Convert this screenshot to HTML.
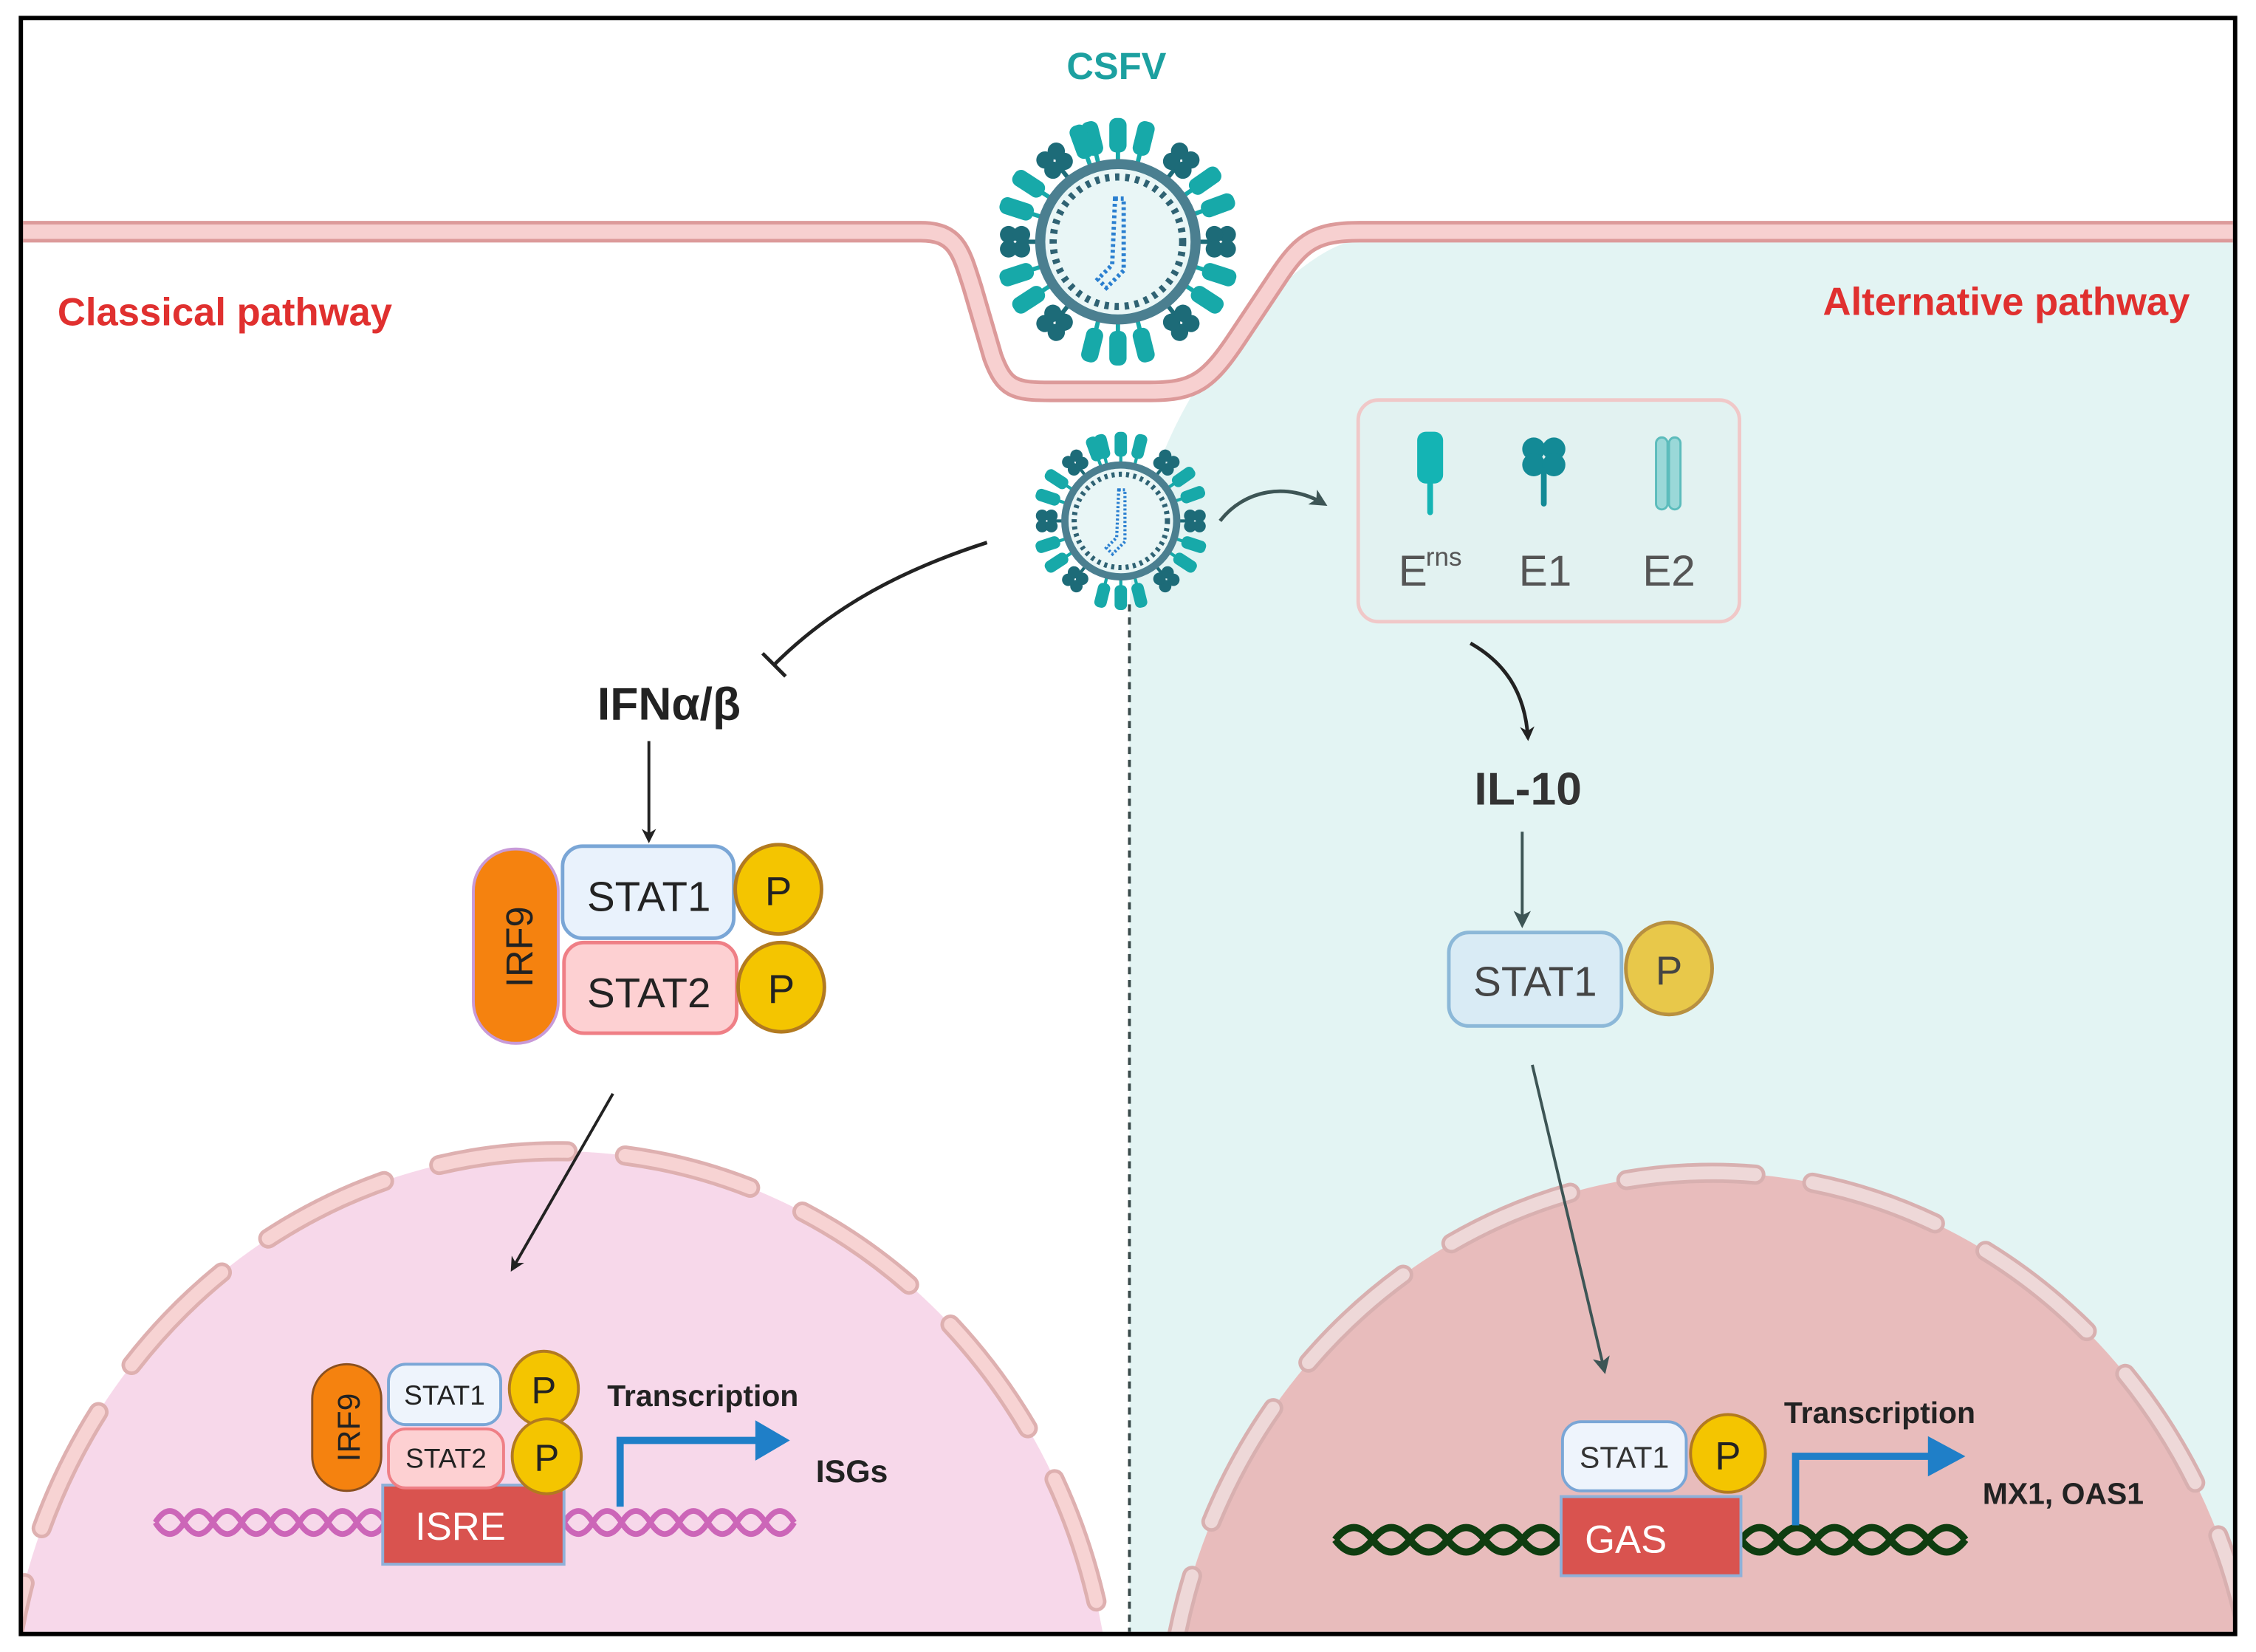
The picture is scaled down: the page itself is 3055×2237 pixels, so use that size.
<!DOCTYPE html>
<html><head><meta charset="utf-8"><style>
html,body{margin:0;padding:0;background:#fff;width:3055px;height:2237px;overflow:hidden}
svg{display:block}
text{font-family:"Liberation Sans",sans-serif}
</style></head><body>
<svg width="3055" height="2237" viewBox="0 0 1568 1148" preserveAspectRatio="none" xmlns="http://www.w3.org/2000/svg">
<defs>
<clipPath id="frame"><rect x="16" y="14" width="1536" height="1120"/></clipPath>
<marker id="ah" markerWidth="10" markerHeight="10" refX="8" refY="5" orient="auto" markerUnits="userSpaceOnUse"><path d="M0,0 L10,5 L0,10 L3,5 Z" fill="#222"/></marker>
<marker id="ahg" markerWidth="12" markerHeight="12" refX="9" refY="6" orient="auto" markerUnits="userSpaceOnUse"><path d="M0,0 L12,6 L0,12 L3,6 Z" fill="#3d5555"/></marker>
<g id="sp"><rect x="-1.5" y="-64" width="3" height="14" fill="#17a9a9"/><rect x="-6" y="-86" width="12" height="24" rx="5" fill="#17a9a9"/></g>
<g id="spd"><rect x="-1.5" y="-64" width="3" height="14" fill="#1d6b78"/><circle cx="-5" cy="-76" r="6" fill="#1d6b78"/><circle cx="5" cy="-76" r="6" fill="#1d6b78"/><circle cx="-5" cy="-67" r="6" fill="#1d6b78"/><circle cx="5" cy="-67" r="6" fill="#1d6b78"/></g>
<g id="virus">
<g><use href="#sp" transform="rotate(0)"/><use href="#sp" transform="rotate(14)"/><use href="#sp" transform="rotate(-14)"/><use href="#spd" transform="rotate(38)"/><use href="#sp" transform="rotate(55)"/><use href="#sp" transform="rotate(70)"/><use href="#spd" transform="rotate(90)"/><use href="#sp" transform="rotate(108)"/><use href="#sp" transform="rotate(123)"/><use href="#spd" transform="rotate(142)"/><use href="#sp" transform="rotate(166)"/><use href="#sp" transform="rotate(180)"/><use href="#sp" transform="rotate(194)"/><use href="#spd" transform="rotate(218)"/><use href="#sp" transform="rotate(237)"/><use href="#sp" transform="rotate(252)"/><use href="#spd" transform="rotate(270)"/><use href="#sp" transform="rotate(288)"/><use href="#sp" transform="rotate(303)"/><use href="#spd" transform="rotate(322)"/><use href="#sp" transform="rotate(340)"/></g>
<circle r="54" fill="#e9f6f6" stroke="#4b7f90" stroke-width="7"/>
<circle r="45" fill="none" stroke="#2f6273" stroke-width="5" stroke-dasharray="3 4"/>
<path d="M-2,-30 L4,-30 L4,20 L-8,32 L-14,26 L-4,16 Z" fill="none" stroke="#2a7fd0" stroke-width="3" stroke-dasharray="2 2"/>
</g>
</defs>

<rect x="0" y="0" width="1568" height="1148" fill="#fff"/>
<g clip-path="url(#frame)">
<path d="M785,1134 L785,420 C790,330 830,250 900,190 C925,170 940,165 960,165 L1552,165 L1552,1134 Z" fill="#e3f4f3"/>
<ellipse cx="388" cy="1210" rx="385" ry="410" fill="#f7d8ea"/>
<ellipse cx="1190" cy="1220" rx="380" ry="405" fill="#e8bcbc"/>
<ellipse cx="388" cy="1210" rx="385" ry="410" fill="none" stroke="#deb0b0" stroke-width="14" stroke-dasharray="90 40" stroke-linecap="round" stroke-dashoffset="30"/>
<ellipse cx="388" cy="1210" rx="385" ry="410" fill="none" stroke="#f7d3d3" stroke-width="9" stroke-dasharray="90 40" stroke-linecap="round" stroke-dashoffset="30"/>
<ellipse cx="1190" cy="1220" rx="380" ry="405" fill="none" stroke="#d8b0b0" stroke-width="14" stroke-dasharray="90 40" stroke-linecap="round" stroke-dashoffset="30"/>
<ellipse cx="1190" cy="1220" rx="380" ry="405" fill="none" stroke="#eed8d8" stroke-width="9" stroke-dasharray="90 40" stroke-linecap="round" stroke-dashoffset="30"/>
<line x1="785" y1="420" x2="785" y2="1134" stroke="#3a4a4a" stroke-width="2" stroke-dasharray="5 4"/>
<path d="M16,161 L640,161 C665,161 668,175 676,200 L690,248 C698,270 705,272 730,272 L800,272 C830,272 840,265 860,235 L890,190 C905,168 915,161 945,161 L1552,161" fill="none" stroke="#dc9a9a" stroke-width="15"/>
<path d="M16,161 L640,161 C665,161 668,175 676,200 L690,248 C698,270 705,272 730,272 L800,272 C830,272 840,265 860,235 L890,190 C905,168 915,161 945,161 L1552,161" fill="none" stroke="#f7d0d0" stroke-width="10"/>
</g>
<use href="#virus" transform="translate(777,168)"/>
<use href="#virus" transform="translate(779,362) scale(0.72)"/>
<text x="776" y="55" text-anchor="middle" font-size="26" font-weight="bold" fill="#1ca0a0">CSFV</text>
<text x="40" y="226" font-size="27" font-weight="bold" fill="#e0302f">Classical pathway</text>
<text x="1522" y="219" text-anchor="end" font-size="27" font-weight="bold" fill="#e0302f">Alternative pathway</text>
<path d="M686,377 C630,395 580,420 538,462" fill="none" stroke="#222" stroke-width="2.5"/>
<line x1="530" y1="454" x2="546" y2="470" stroke="#222" stroke-width="2.5"/>
<text x="465" y="500" text-anchor="middle" font-size="32" font-weight="bold" fill="#222">IFNα/β</text>
<line x1="451" y1="515" x2="451" y2="584" stroke="#222" stroke-width="2" marker-end="url(#ah)"/>
<rect x="329" y="590" width="59" height="135" rx="29" fill="#f5820f" stroke="#c89ad8" stroke-width="2"/>
<text transform="translate(370,658) rotate(-90)" text-anchor="middle" font-size="26" fill="#222">IRF9</text>
<rect x="391" y="588" width="119" height="64" rx="14" fill="#e9f2fc" stroke="#7aa6d6" stroke-width="2.5"/>
<text x="451" y="633" text-anchor="middle" font-size="29" fill="#222">STAT1</text>
<rect x="392" y="655" width="120" height="63" rx="14" fill="#fdd0d2" stroke="#ef7f86" stroke-width="2.5"/>
<text x="451" y="700" text-anchor="middle" font-size="29" fill="#222">STAT2</text>
<ellipse cx="541" cy="618" rx="30" ry="31" fill="#f4c500" stroke="#b27a20" stroke-width="2.5"/>
<text x="541" y="629" text-anchor="middle" font-size="28" fill="#222">P</text>
<ellipse cx="543" cy="686" rx="30" ry="31" fill="#f4c500" stroke="#b27a20" stroke-width="2.5"/>
<text x="543" y="697" text-anchor="middle" font-size="28" fill="#222">P</text>
<line x1="426" y1="760" x2="356" y2="882" stroke="#222" stroke-width="2" marker-end="url(#ah)"/>
<path d="M108,1058 q10,-16 20,0 t20,0 t20,0 t20,0 t20,0 t20,0 t20,0 t20,0 M392,1058 q10,-16 20,0 t20,0 t20,0 t20,0 t20,0 t20,0 t20,0 t20,0" fill="none" stroke="#cc66b8" stroke-width="4"/>
<path d="M108,1058 q10,16 20,0 t20,0 t20,0 t20,0 t20,0 t20,0 t20,0 t20,0 M392,1058 q10,16 20,0 t20,0 t20,0 t20,0 t20,0 t20,0 t20,0 t20,0" fill="none" stroke="#cc66b8" stroke-width="4"/>
<rect x="266" y="1032" width="126" height="55" fill="#d9534f" stroke="#8fb0d8" stroke-width="2"/>
<text x="320" y="1070" text-anchor="middle" font-size="27" fill="#fff">ISRE</text>
<rect x="217" y="948" width="48" height="88" rx="24" fill="#f5820f" stroke="#8a5020" stroke-width="1.5"/>
<text transform="translate(250,992) rotate(-90)" text-anchor="middle" font-size="22" fill="#222">IRF9</text>
<rect x="270" y="948" width="78" height="42" rx="12" fill="#eef4fc" stroke="#7aa6d6" stroke-width="2"/>
<text x="309" y="976" text-anchor="middle" font-size="19" fill="#222">STAT1</text>
<rect x="270" y="993" width="80" height="41" rx="12" fill="#fdd0d2" stroke="#ef7f86" stroke-width="2"/>
<text x="310" y="1020" text-anchor="middle" font-size="19" fill="#222">STAT2</text>
<ellipse cx="378" cy="965" rx="24" ry="26" fill="#f4c500" stroke="#b27a20" stroke-width="2"/>
<text x="378" y="975" text-anchor="middle" font-size="26" fill="#222">P</text>
<ellipse cx="380" cy="1012" rx="24" ry="26" fill="#f4c500" stroke="#b27a20" stroke-width="2"/>
<text x="380" y="1022" text-anchor="middle" font-size="26" fill="#222">P</text>
<path d="M431,1047 L431,1001 L530,1001" fill="none" stroke="#1f7fc8" stroke-width="5"/>
<path d="M525,987 L549,1001 L525,1015 Z" fill="#1f7fc8"/>
<text x="422" y="977" font-size="21" font-weight="bold" fill="#222">Transcription</text>
<text x="567" y="1030" font-size="22" font-weight="bold" fill="#222">ISGs</text>
<path d="M848,362 C865,340 895,335 920,350" fill="none" stroke="#3d5555" stroke-width="2.5" marker-end="url(#ahg)"/>
<rect x="944" y="278" width="265" height="154" rx="14" fill="#e2f2f1" stroke="#f0c8c8" stroke-width="2.5"/>
<rect x="985" y="300" width="18" height="36" rx="6" fill="#14b4b4"/>
<rect x="992" y="334" width="4" height="24" rx="2" fill="#14b4b4"/>
<circle cx="1066" cy="312" r="8" fill="#138a96"/><circle cx="1080" cy="312" r="8" fill="#138a96"/><circle cx="1066" cy="323" r="8" fill="#138a96"/><circle cx="1080" cy="323" r="8" fill="#138a96"/>
<rect x="1071" y="325" width="4" height="27" rx="2" fill="#138a96"/>
<rect x="1151" y="304" width="8" height="50" rx="4" fill="#9ad8d8" stroke="#5cbcbc" stroke-width="1.5"/>
<rect x="1160" y="304" width="8" height="50" rx="4" fill="#9ad8d8" stroke="#5cbcbc" stroke-width="1.5"/>
<text x="972" y="407" font-size="30" fill="#555">E</text><text x="991" y="393" font-size="18" fill="#555">rns</text>
<text x="1074" y="407" text-anchor="middle" font-size="30" fill="#555">E1</text>
<text x="1160" y="407" text-anchor="middle" font-size="30" fill="#555">E2</text>
<path d="M1022,447 C1045,460 1060,480 1062,513" fill="none" stroke="#222" stroke-width="2.5" marker-end="url(#ah)"/>
<text x="1062" y="559" text-anchor="middle" font-size="32" font-weight="bold" fill="#333">IL-10</text>
<line x1="1058" y1="578" x2="1058" y2="642" stroke="#3d5555" stroke-width="2" marker-end="url(#ahg)"/>
<rect x="1007" y="648" width="120" height="65" rx="14" fill="#d9ebf5" stroke="#8cb8d8" stroke-width="2.5"/>
<text x="1067" y="692" text-anchor="middle" font-size="29" fill="#444">STAT1</text>
<ellipse cx="1160" cy="673" rx="30" ry="32" fill="#e8c84a" stroke="#b89040" stroke-width="2.5"/>
<text x="1160" y="684" text-anchor="middle" font-size="28" fill="#444">P</text>
<line x1="1065" y1="740" x2="1115" y2="952" stroke="#3d5555" stroke-width="2" marker-end="url(#ahg)"/>
<path d="M928,1070 q13,-17 26,0 t26,0 t26,0 t26,0 t26,0 t26,0 M1210,1070 q13,-17 26,0 t26,0 t26,0 t26,0 t26,0 t26,0" fill="none" stroke="#0f3d10" stroke-width="5"/>
<path d="M928,1070 q13,17 26,0 t26,0 t26,0 t26,0 t26,0 t26,0 M1210,1070 q13,17 26,0 t26,0 t26,0 t26,0 t26,0 t26,0" fill="none" stroke="#0f3d10" stroke-width="5"/>
<rect x="1085" y="1040" width="125" height="55" fill="#d9534f" stroke="#8fb0d8" stroke-width="2"/>
<text x="1130" y="1079" text-anchor="middle" font-size="27" fill="#fff">GAS</text>
<rect x="1086" y="988" width="86" height="48" rx="13" fill="#eef4fc" stroke="#7aa6d6" stroke-width="2"/>
<text x="1129" y="1020" text-anchor="middle" font-size="21" fill="#333">STAT1</text>
<ellipse cx="1201" cy="1010" rx="26" ry="27" fill="#f4c500" stroke="#b27a20" stroke-width="2"/>
<text x="1201" y="1021" text-anchor="middle" font-size="27" fill="#222">P</text>
<path d="M1248,1060 L1248,1012 L1345,1012" fill="none" stroke="#1f7fc8" stroke-width="5"/>
<path d="M1340,998 L1366,1012 L1340,1026 Z" fill="#1f7fc8"/>
<text x="1240" y="989" font-size="21" font-weight="bold" fill="#222">Transcription</text>
<text x="1378" y="1045" font-size="21" font-weight="bold" fill="#222">MX1, OAS1</text>
<rect x="14.5" y="12.5" width="1539" height="1123" fill="none" stroke="#000" stroke-width="3"/>
</svg>
</body></html>
